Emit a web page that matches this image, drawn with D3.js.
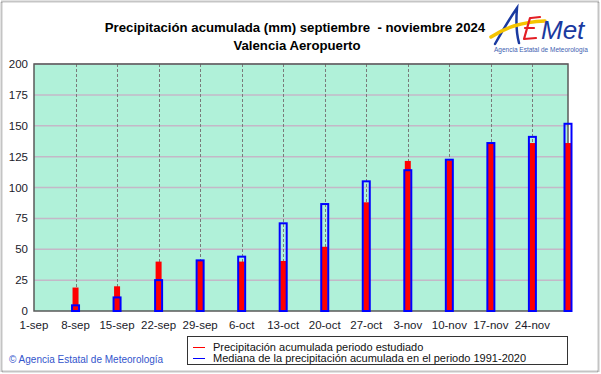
<!DOCTYPE html>
<html>
<head>
<meta charset="utf-8">
<script src="https://cdn.jsdelivr.net/npm/d3@7"></script>
<style>
  body { margin: 0; background: #fff; }
  svg { display: block; font-family: "Liberation Sans", Arial, sans-serif; }
</style>
</head>
<body>
<div id="chart"></div>
<script>
// weekly cumulative precipitation, Valencia Aeropuerto, autumn 2024
var dates = ["2024-09-08", "2024-09-15", "2024-09-22", "2024-09-29", "2024-10-06", "2024-10-13",
             "2024-10-20", "2024-10-27", "2024-11-03", "2024-11-10", "2024-11-17", "2024-11-24", "2024-11-30"];
var observed = [19, 20, 40, 40.5, 40, 40.5, 52, 88, 121.5, 122, 136, 136, 136];
var median = [4.6, 11, 25, 41, 44, 71, 86.6, 105, 114, 122.5, 136, 141, 151.6];
var tickDates = ["2024-09-01", "2024-09-08", "2024-09-15", "2024-09-22", "2024-09-29", "2024-10-06", "2024-10-13",
                 "2024-10-20", "2024-10-27", "2024-11-03", "2024-11-10", "2024-11-17", "2024-11-24"];
var tickLabels = ["1-sep", "8-sep", "15-sep", "22-sep", "29-sep", "6-oct", "13-oct",
                  "20-oct", "27-oct", "3-nov", "10-nov", "17-nov", "24-nov"];
var yTicks = [0, 25, 50, 75, 100, 125, 150, 175, 200];
var legendLabels = ["Precipitación acumulada periodo estudiado",
                    "Mediana de la precipitación acumulada en el periodo 1991-2020"];

var W = 601, H = 374;
var plot = { left: 34, right: 568, top: 64, bottom: 311 };
var parse = d3.utcParse("%Y-%m-%d");

var svg = d3.select("#chart").append("svg")
    .attr("width", W)
    .attr("height", H);

// outer frame
svg.append("rect")
    .attr("x", 1.5).attr("y", 1.5)
    .attr("width", W - 4).attr("height", H - 4)
    .attr("fill", "#fff")
    .attr("stroke", "#8a8a8a")
    .attr("stroke-width", 2)
    .attr("stroke-dasharray", "1,1");

var x = d3.scaleUtc()
    .domain([parse("2024-09-01"), parse("2024-11-30")])
    .range([plot.left, plot.right]);

var y = d3.scaleLinear()
    .domain([0, 200])
    .range([plot.bottom, plot.top]);

// plot background
svg.append("rect")
    .attr("x", plot.left).attr("y", plot.top)
    .attr("width", plot.right - plot.left)
    .attr("height", plot.bottom - plot.top)
    .attr("fill", "#b0f1d9");

// horizontal grid
svg.append("g")
    .selectAll("line")
    .data(yTicks.slice(1))
    .join("line")
    .attr("x1", plot.left).attr("x2", plot.right)
    .attr("y1", function(d) { return y(d); })
    .attr("y2", function(d) { return y(d); })
    .attr("stroke", "#c4b8c8")
    .attr("stroke-width", 1.5);

// vertical dashed grid
svg.append("g")
    .selectAll("line")
    .data(tickDates.slice(1))
    .join("line")
    .attr("x1", function(d) { return Math.round(x(parse(d))) + 0.5; })
    .attr("x2", function(d) { return Math.round(x(parse(d))) + 0.5; })
    .attr("y1", plot.top).attr("y2", plot.bottom)
    .attr("stroke", "#7a7a7a")
    .attr("stroke-dasharray", "3,2");

// plot border
svg.append("rect")
    .attr("x", plot.left).attr("y", plot.top)
    .attr("width", plot.right - plot.left)
    .attr("height", plot.bottom - plot.top)
    .attr("fill", "none")
    .attr("stroke", "#5a5a5a")
    .attr("stroke-width", 1.5);

// observed bars (red)
svg.append("g")
    .selectAll("rect")
    .data(dates)
    .join("rect")
    .attr("x", function(d) { return x(parse(d)) - 3; })
    .attr("y", function(d, i) { return y(observed[i]); })
    .attr("width", 6)
    .attr("height", function(d, i) { return y(0) - y(observed[i]); })
    .attr("fill", "#ff0000");

// median bars (blue outline)
svg.append("g")
    .selectAll("rect")
    .data(dates)
    .join("rect")
    .attr("x", function(d) { return x(parse(d)) - 3.5; })
    .attr("y", function(d, i) { return y(median[i]); })
    .attr("width", 7)
    .attr("height", function(d, i) { return y(0) - y(median[i]); })
    .attr("fill", "none")
    .attr("stroke", "#0000ff")
    .attr("stroke-width", 2);

// y axis labels
svg.append("g")
    .selectAll("text")
    .data(yTicks)
    .join("text")
    .attr("x", 28)
    .attr("y", function(d) { return y(d) + 4; })
    .attr("text-anchor", "end")
    .attr("font-size", "11.5px")
    .attr("fill", "#1a1a2a")
    .text(function(d) { return d; });

// x axis labels
svg.append("g")
    .selectAll("text")
    .data(tickDates)
    .join("text")
    .attr("x", function(d) { return x(parse(d)); })
    .attr("y", 329)
    .attr("text-anchor", "middle")
    .attr("font-size", "11.5px")
    .attr("fill", "#1a1a2a")
    .text(function(d, i) { return tickLabels[i]; });

// title
svg.append("text")
    .attr("x", 295).attr("y", 32)
    .attr("text-anchor", "middle")
    .attr("font-size", "13.2px")
    .attr("font-weight", "bold")
    .attr("xml:space", "preserve")
    .text("Precipitación acumulada (mm) septiembre  - noviembre 2024");

svg.append("text")
    .attr("x", 297).attr("y", 50)
    .attr("text-anchor", "middle")
    .attr("font-size", "13.2px")
    .attr("font-weight", "bold")
    .text("Valencia Aeropuerto");

// legend
var legend = svg.append("g");
legend.append("rect")
    .attr("x", 187.5).attr("y", 336.5)
    .attr("width", 380).attr("height", 28)
    .attr("fill", "#fff")
    .attr("stroke", "#333")
    .attr("stroke-width", 1);

legend.selectAll("line")
    .data(["#ff0000", "#0000ff"])
    .join("line")
    .attr("x1", 193).attr("x2", 205)
    .attr("y1", function(d, i) { return 347.5 + i * 11; })
    .attr("y2", function(d, i) { return 347.5 + i * 11; })
    .attr("stroke", function(d) { return d; })
    .attr("stroke-width", 1);

legend.selectAll("text")
    .data(legendLabels)
    .join("text")
    .attr("x", 213)
    .attr("y", function(d, i) { return 351 + i * 11; })
    .attr("font-size", "11px")
    .attr("fill", "#111")
    .text(function(d) { return d; });

// copyright
svg.append("text")
    .attr("x", 9).attr("y", 363)
    .attr("font-size", "10px")
    .attr("fill", "#3355cc")
    .text("© Agencia Estatal de Meteorología");

// AEMET logo (approximation)
var logo = svg.append("g");
logo.append("path")
    .attr("d", "M495,44 C503,30 510,18 517,8 C516,20 516,32 519,43")
    .attr("fill", "none")
    .attr("stroke", "#1a3aa0")
    .attr("stroke-width", 2.5)
    .attr("stroke-linecap", "round");
logo.append("path")
    .attr("d", "M491,37 C505,28 520,22 545,21")
    .attr("fill", "none")
    .attr("stroke", "#f5c400")
    .attr("stroke-width", 3.5)
    .attr("stroke-linecap", "round");
logo.append("path")
    .attr("d", "M530,18 L524,39 M525,28 L534,28 M524,39 L536,38 M531,18 L540,17")
    .attr("fill", "none")
    .attr("stroke", "#e31e24")
    .attr("stroke-width", 2.2)
    .attr("stroke-linecap", "round");
logo.append("text")
    .attr("x", 541).attr("y", 39)
    .attr("font-size", "26px")
    .attr("font-style", "italic")
    .attr("fill", "#1a3aa0")
    .text("Met");
logo.append("text")
    .attr("x", 541).attr("y", 52)
    .attr("text-anchor", "middle")
    .attr("font-size", "6.5px")
    .attr("fill", "#4060b0")
    .text("Agencia Estatal de Meteorología");
</script>
</body>
</html>
